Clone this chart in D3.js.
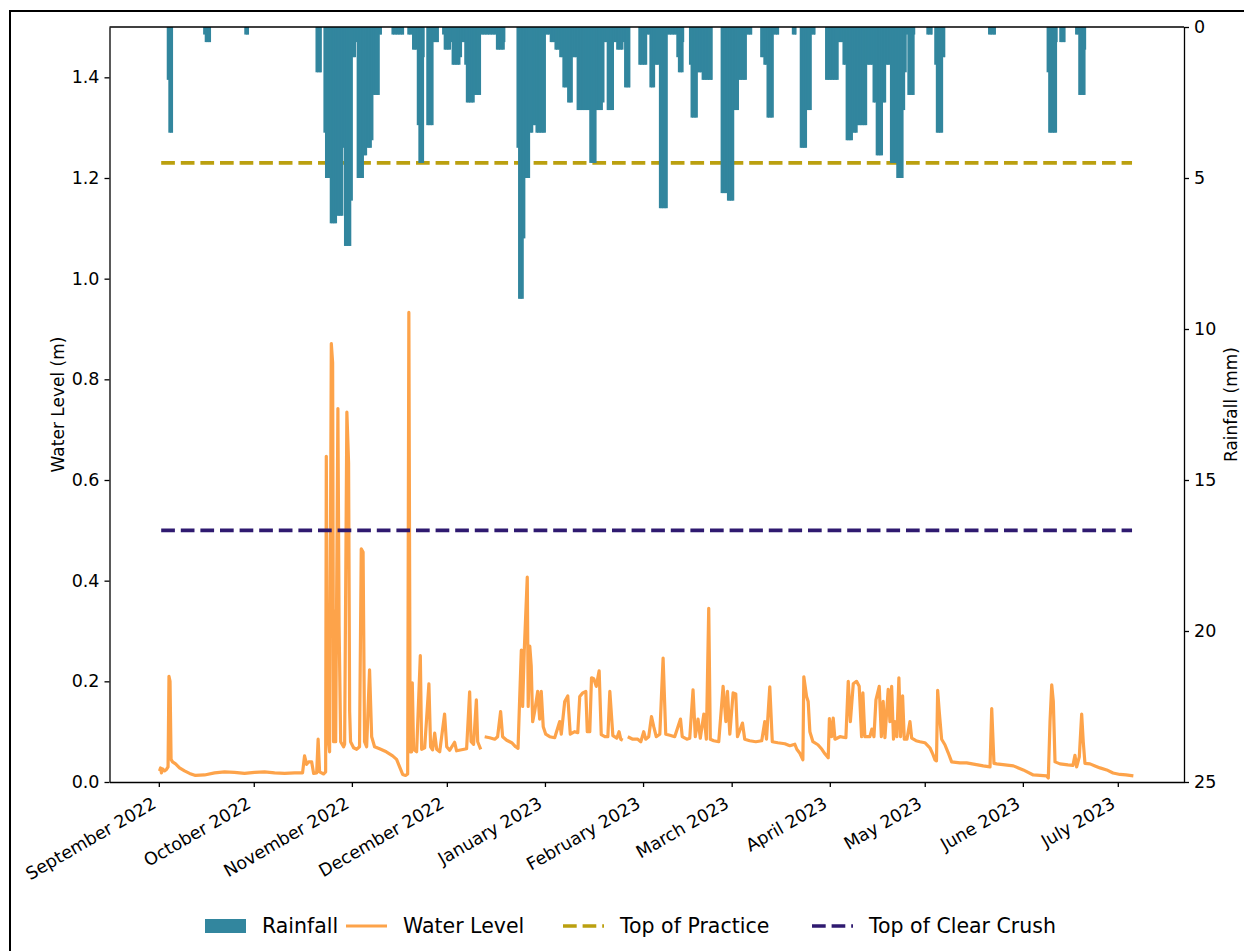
<!DOCTYPE html>
<html>
<head>
<meta charset="UTF-8">
<title>Water Level and Rainfall</title>
<script src="https://d3js.org/d3.v7.min.js"></script>
<style>
  body { margin: 0; background: #fff; }
  text { font-family: "DejaVu Sans", sans-serif; fill: #000; }
</style>
</head>
<body>
<script>
// ---- data ----
var xLimits = ["2022-08-16 10:00", "2023-07-21 22:00"];
var lineSpan = ["2022-09-01 18:00", "2023-07-05 12:00"];
var monthTicks = ["2022-09-01", "2022-10-01", "2022-11-01", "2022-12-01", "2023-01-01", "2023-02-01",
                  "2023-03-01", "2023-04-01", "2023-05-01", "2023-06-01", "2023-07-01"];
var levelTicks = [0, 0.2, 0.4, 0.6, 0.8, 1.0, 1.2, 1.4];
var rainTicks = [0, 5, 10, 15, 20, 25];
var levelMax = 1.5;
var rainMax = 25;
var thresholdNames = ["Top of Practice", "Top of Clear Crush"];
var thresholdValues = [1.23, 0.5];

// water level (m); null marks a gap in the record
var waterLevel = [
  ["2022-09-01 05:00",0.022],["2022-09-01 13:00",0.028],["2022-09-01 20:00",0.018],["2022-09-02 04:00",0.026],
  ["2022-09-02 19:00",0.022],["2022-09-03 10:00",0.025],["2022-09-03 22:00",0.03],["2022-09-04 05:00",0.21],
  ["2022-09-04 13:00",0.2],["2022-09-04 21:00",0.045],["2022-09-05 08:00",0.04],["2022-09-06 07:00",0.036],
  ["2022-09-07 13:00",0.028],["2022-09-09 03:00",0.022],["2022-09-10 17:00",0.017],["2022-09-12 14:00",0.013],
  ["2022-09-15 11:00",0.014],["2022-09-18 15:00",0.018],["2022-09-21 18:00",0.02],["2022-09-24 22:00",0.019],
  ["2022-09-28 02:00",0.017],["2022-10-01 06:00",0.019],["2022-10-04 10:00",0.02],["2022-10-07 14:00",0.018],
  ["2022-10-10 18:00",0.017],["2022-10-13 22:00",0.018],["2022-10-16 10:00",0.018],["2022-10-17 01:00",0.052],
  ["2022-10-17 17:00",0.035],["2022-10-18 08:00",0.04],["2022-10-19 07:00",0.04],["2022-10-19 22:00",0.017],
  ["2022-10-20 21:00",0.018],["2022-10-21 08:00",0.085],["2022-10-21 19:00",0.02],["2022-10-23 02:00",0.016],
  ["2022-10-23 17:00",0.02],["2022-10-23 22:00",0.647],["2022-10-24 08:00",0.1],["2022-10-24 23:00",0.06],
  ["2022-10-25 12:00",0.871],["2022-10-25 22:00",0.833],["2022-10-26 05:00",0.08],["2022-10-26 13:00",0.34],
  ["2022-10-26 21:00",0.08],["2022-10-27 14:00",0.742],["2022-10-27 23:00",0.31],["2022-10-28 11:00",0.08],
  ["2022-10-29 09:00",0.07],["2022-10-29 17:00",0.075],["2022-10-30 10:00",0.735],["2022-10-30 23:00",0.634],
  ["2022-10-31 07:00",0.14],["2022-10-31 14:00",0.08],["2022-11-01 13:00",0.068],["2022-11-02 12:00",0.065],
  ["2022-11-03 10:00",0.07],["2022-11-03 23:00",0.463],["2022-11-04 13:00",0.457],["2022-11-05 00:00",0.08],
  ["2022-11-05 16:00",0.07],["2022-11-06 14:00",0.223],["2022-11-07 06:00",0.09],["2022-11-08 04:00",0.07],
  ["2022-11-09 18:00",0.066],["2022-11-11 21:00",0.06],["2022-11-13 21:00",0.052],["2022-11-15 03:00",0.045],
  ["2022-11-16 02:00",0.03],["2022-11-17 01:00",0.015],["2022-11-17 23:00",0.013],["2022-11-18 15:00",0.016],
  ["2022-11-19 00:00",0.933],["2022-11-19 10:00",0.06],["2022-11-19 21:00",0.06],["2022-11-20 02:00",0.197],
  ["2022-11-20 12:00",0.065],["2022-11-21 11:00",0.06],["2022-11-22 15:00",0.251],["2022-11-23 01:00",0.065],
  ["2022-11-24 00:00",0.068],["2022-11-25 08:00",0.195],["2022-11-25 21:00",0.07],["2022-11-26 12:00",0.064],
  ["2022-11-27 04:00",0.097],["2022-11-27 19:00",0.065],["2022-11-28 18:00",0.06],["2022-11-30 07:00",0.135],
  ["2022-11-30 23:00",0.07],["2022-12-01 21:00",0.063],["2022-12-03 11:00",0.079],["2022-12-04 02:00",0.062],
  ["2022-12-05 16:00",0.064],["2022-12-07 06:00",0.066],["2022-12-08 05:00",0.179],["2022-12-08 16:00",0.08],
  ["2022-12-09 11:00",0.075],["2022-12-10 08:00",0.163],["2022-12-10 18:00",0.08],["2022-12-11 17:00",0.065],
  ["2022-12-12 06:00",null],
  ["2022-12-12 23:00",0.09],["2022-12-14 13:00",0.088],["2022-12-16 03:00",0.085],["2022-12-17 01:00",0.09],
  ["2022-12-18 00:00",0.14],["2022-12-18 15:00",0.09],["2022-12-19 22:00",0.083],["2022-12-21 12:00",0.078],
  ["2022-12-22 18:00",0.07],["2022-12-23 12:00",0.067],["2022-12-24 00:00",0.163],["2022-12-24 13:00",0.262],
  ["2022-12-24 23:00",0.15],["2022-12-25 11:00",0.26],["2022-12-26 10:00",0.407],["2022-12-26 17:00",0.15],
  ["2022-12-27 05:00",0.27],["2022-12-27 16:00",0.23],["2022-12-28 03:00",0.12],["2022-12-28 18:00",0.14],
  ["2022-12-29 17:00",0.18],["2022-12-30 08:00",0.125],["2022-12-30 20:00",0.18],["2022-12-31 11:00",0.11],
  ["2023-01-01 06:00",0.095],["2023-01-02 12:00",0.09],["2023-01-04 02:00",0.088],["2023-01-05 16:00",0.12],
  ["2023-01-06 04:00",0.095],["2023-01-07 06:00",0.16],["2023-01-08 05:00",0.171],["2023-01-09 00:00",0.095],
  ["2023-01-10 10:00",0.1],["2023-01-11 09:00",0.098],["2023-01-12 00:00",0.17],["2023-01-12 23:00",0.177],
  ["2023-01-13 22:00",0.18],["2023-01-14 09:00",0.1],["2023-01-15 04:00",0.1],["2023-01-15 17:00",0.207],
  ["2023-01-16 10:00",0.205],["2023-01-17 05:00",0.19],["2023-01-18 03:00",0.221],["2023-01-18 19:00",0.094],
  ["2023-01-19 22:00",0.09],["2023-01-20 21:00",0.09],["2023-01-21 12:00",0.18],["2023-01-22 11:00",0.092],
  ["2023-01-23 17:00",0.087],["2023-01-24 10:00",0.1],["2023-01-24 23:00",0.085],["2023-01-25 14:00",0.083],
  ["2023-01-26 09:00",null],
  ["2023-01-27 04:00",0.09],["2023-01-28 18:00",0.085],["2023-01-30 08:00",0.085],["2023-01-31 07:00",0.08],
  ["2023-02-01 05:00",0.1],["2023-02-01 20:00",0.085],["2023-02-02 19:00",0.09],["2023-02-03 16:00",0.13],
  ["2023-02-04 09:00",0.11],["2023-02-05 04:00",0.09],["2023-02-06 07:00",0.095],["2023-02-07 08:00",0.246],
  ["2023-02-08 04:00",0.095],["2023-02-09 11:00",0.093],["2023-02-11 00:00",0.09],["2023-02-12 20:00",0.125],
  ["2023-02-13 09:00",0.09],["2023-02-14 20:00",0.085],["2023-02-15 18:00",0.087],["2023-02-16 19:00",0.183],
  ["2023-02-17 12:00",0.09],["2023-02-18 09:00",0.125],["2023-02-19 02:00",0.087],["2023-02-20 05:00",0.135],
  ["2023-02-21 00:00",0.085],["2023-02-21 18:00",0.345],["2023-02-22 06:00",0.085],["2023-02-23 08:00",0.082],
  ["2023-02-24 22:00",0.08],["2023-02-26 07:00",0.19],["2023-02-27 04:00",0.12],["2023-02-27 16:00",0.18],
  ["2023-02-28 10:00",0.095],["2023-03-01 11:00",0.177],["2023-03-02 07:00",0.175],["2023-03-02 20:00",0.09],
  ["2023-03-04 10:00",0.117],["2023-03-05 03:00",0.085],["2023-03-06 17:00",0.082],["2023-03-08 15:00",0.08],
  ["2023-03-10 12:00",0.082],["2023-03-11 11:00",0.12],["2023-03-12 00:00",0.085],["2023-03-13 01:00",0.189],
  ["2023-03-13 20:00",0.08],["2023-03-15 14:00",0.078],["2023-03-17 19:00",0.076],["2023-03-19 09:00",0.072],
  ["2023-03-20 23:00",0.075],["2023-03-21 14:00",0.065],["2023-03-22 13:00",0.057],["2023-03-23 12:00",0.044],
  ["2023-03-23 19:00",0.209],["2023-03-24 16:00",0.17],["2023-03-25 04:00",0.16],["2023-03-25 17:00",0.1],
  ["2023-03-26 16:00",0.08],["2023-03-28 06:00",0.074],["2023-03-29 12:00",0.065],["2023-03-30 11:00",0.056],
  ["2023-03-31 12:00",0.048],["2023-03-31 21:00",0.126],["2023-04-01 14:00",0.09],["2023-04-02 02:00",0.127],
  ["2023-04-02 15:00",0.085],["2023-04-04 05:00",0.09],["2023-04-06 02:00",0.088],["2023-04-06 20:00",0.2],
  ["2023-04-07 12:00",0.12],["2023-04-08 10:00",0.195],["2023-04-09 11:00",0.2],["2023-04-10 07:00",0.19],
  ["2023-04-11 01:00",0.09],["2023-04-11 11:00",0.177],["2023-04-12 02:00",0.09],["2023-04-13 16:00",0.09],
  ["2023-04-14 07:00",0.105],["2023-04-14 23:00",0.09],["2023-04-15 14:00",0.163],["2023-04-16 15:00",0.19],
  ["2023-04-17 07:00",0.09],["2023-04-17 21:00",0.16],["2023-04-18 10:00",0.088],["2023-04-19 11:00",0.184],
  ["2023-04-20 00:00",0.12],["2023-04-20 13:00",0.19],["2023-04-21 03:00",0.085],["2023-04-21 14:00",0.12],
  ["2023-04-22 05:00",0.09],["2023-04-22 20:00",0.207],["2023-04-23 09:00",0.09],["2023-04-24 00:00",0.171],
  ["2023-04-24 13:00",0.085],["2023-04-25 09:00",0.085],["2023-04-26 08:00",0.12],["2023-04-26 21:00",0.087],
  ["2023-04-28 06:00",0.082],["2023-04-29 12:00",0.08],["2023-05-01 01:00",0.078],["2023-05-02 15:00",0.068],
  ["2023-05-03 14:00",0.055],["2023-05-04 06:00",0.044],["2023-05-04 17:00",0.042],["2023-05-05 02:00",0.182],
  ["2023-05-05 14:00",0.14],["2023-05-06 08:00",0.085],["2023-05-07 09:00",0.074],["2023-05-08 10:00",0.058],
  ["2023-05-09 12:00",0.04],["2023-05-12 03:00",0.038],["2023-05-14 06:00",0.038],["2023-05-16 21:00",0.035],
  ["2023-05-19 12:00",0.032],["2023-05-21 15:00",0.03],["2023-05-22 04:00",0.146],["2023-05-22 21:00",0.037],
  ["2023-05-23 18:00",0.036],["2023-05-26 09:00",0.034],["2023-05-29 00:00",0.032],["2023-06-01 03:00",0.024],
  ["2023-06-04 07:00",0.014],["2023-06-06 10:00",0.013],["2023-06-08 12:00",0.012],["2023-06-09 01:00",0.008],
  ["2023-06-09 14:00",0.12],["2023-06-10 03:00",0.193],["2023-06-10 15:00",0.16],["2023-06-11 04:00",0.04],
  ["2023-06-12 18:00",0.036],["2023-06-15 06:00",0.034],["2023-06-16 20:00",0.033],["2023-06-17 11:00",0.053],
  ["2023-06-18 00:00",0.03],["2023-06-18 20:00",0.05],["2023-06-19 14:00",0.135],["2023-06-20 02:00",0.08],
  ["2023-06-20 15:00",0.037],["2023-06-22 05:00",0.036],["2023-06-23 19:00",0.032],["2023-06-25 09:00",0.028],
  ["2023-06-27 12:00",0.024],["2023-06-29 12:00",0.018],["2023-07-01 17:00",0.015],["2023-07-03 14:00",0.014],
  ["2023-07-05 22:00",0.012]
];

// rainfall (mm) per 12-hour period: [start of first period, consecutive values]
var rainfall = [
  ["2022-09-03 12:00",[1.75,3.5,3.5,3.5]],
  ["2022-09-15 00:00",[0.25,0.5,0.5,0.5,0.5]],
  ["2022-09-28 00:00",[0.25,0.25,0.25]],
  ["2022-10-20 12:00",[1.5,1.5,1.5,1.5]],
  ["2022-10-23 00:00",[3.5,5,5,5,6.5,6.5,6.5,6.5,6.25,6.25,6.25,6.25,4,7.25,7.25,7.25,7.25,5.75,1,1,0.5,
                       5,5,5,5,4.25,4.25,4,4,4,3.75,2.25,2.25,2.25,2.25,0.25,0.25]],
  ["2022-11-13 12:00",[0.25,0.25,0.25,0.25,0.25,0.25,0.25,0.25]],
  ["2022-11-18 12:00",[0.25,0.25,0.25,0.75,0.75,0.75,3.25,4.5,4.5,4.5,1]],
  ["2022-11-24 12:00",[3.25,3.25,3.25,3.25,0.5,0.5,0.5,0.5]],
  ["2022-11-29 12:00",[0.25,0.75,0.75,0.75,0.75,0.5,1.25,1.25,1.25,1.25,1.25,1,0.5,0.5,1.25,
                       2.5,2.5,2.5,2.5,2.5,2.25,2.25,2.25,2.25,0.25,0.25,0.25,0.25,0.25,0.25,0.25,0.25,0.25,0.25,
                       0.75,0.75,0.75,0.75,0.75,0.5]],
  ["2022-12-23 00:00",[4,9,9,9,7,5,5,5,3.5,3.5,3.25,3.25,3.5,3.5,3.5,3.5,3.5,3.5,0.25,0.25,0.25,0.5,0.5,0.5,
                       0.75,0.75,0.75,1,1,2,2,2,2.5,2.5,2.5,1,1,1,2.75,2.75,2.75,2.75,2.75,2.75,2.75,2.75,
                       4.5,4.5,4.5,4.5,2.75,2.75,2.75,2.75,2.5,0.5,0.5,2.75,2.75,2.75,2.75,0.5,0.5,
                       0.75,0.75,0.75,0.75,0.5,2,2,2,2]],
  ["2023-01-30 12:00",[1.25,1.25,1.25,1.25,1.25,0.25,0.25,2,2,2,1.25,1.25,1.25,6,6,6,6,6,
                       0.25,0.25,0.25,0.25,0.25,0.25,1,1.5,1.5,1.5,0.5]],
  ["2023-02-15 12:00",[1.25,3,3,3,3,1.5,1.5,1.5,1.75,1.75,1.75,1.75,1.75,1.75,1.75]],
  ["2023-02-25 12:00",[5.5,5.5,5.5,5.5,5.75,5.75,5.75,5.75,2.75,2.75,2.75,1.75,1.75,1.75,1.75,1.75,
                       0.25,0.25,0.25,0.25]],
  ["2023-03-10 00:00",[1,1,1.25,1.25,3,3,3,3,0.25,0.25,0.25,0.25]],
  ["2023-03-20 00:00",[0.25,0.25,0.25]],
  ["2023-03-22 12:00",[4,4,4,4,2.75,2.75,2.75,0.25,0.25,0.25]],
  ["2023-03-30 12:00",[1.75,1.75,1.75,1.75,1.75,1.75,1.75,1.75,0.5,0.5,0.5,1.25,1.25,3.75,3.75,3.75,3.75,
                       3.5,3.5,3.5,3.25,3.25,3.25,3.25,3.25,3.25,1.25,1.25,1.25,1.25,2.5,2.5,
                       4.25,4.25,4.25,4.25,2.5,2.5,1.25,1.25,1.25,4.5,4.5,4.5,4.5,5,5,5,5,
                       2.75,1.5,0.25,2.25,2.25,2.25,2.25,0.25]],
  ["2023-05-01 12:00",[0.25,0.25,0.25,0.25]],
  ["2023-05-04 00:00",[1.25,3.5,3.5,3.5,3.5,1,1]],
  ["2023-05-21 00:00",[0.25,0.25,0.25,0.25,0.25]],
  ["2023-06-08 12:00",[1.5,3.5,3.5,3.5,3.5,3.5,0.5]],
  ["2023-06-12 12:00",[0.5,0.5,0.5,0.5]],
  ["2023-06-17 12:00",[0.25,0.25,2.25,2.25,2.25,2.25,0.75]]
];

// ---- layout ----
var W = 1244, H = 951;
var plot = {left: 109.5, top: 27, right: 1184, bottom: 782};
var rainColor = "#32869e", waterColor = "#fda34a";
var thresholdColors = ["#bba00f", "#2f1a70"];
var tickFont = 17.5, labelFont = 17, legendFont = 20.5;

var parseTime = d3.timeParse("%Y-%m-%d %H:%M");
var parseDay = d3.timeParse("%Y-%m-%d");

var x = d3.scaleTime()
  .domain(xLimits.map(parseTime))
  .range([plot.left, plot.right]);
var yLevel = d3.scaleLinear().domain([0, levelMax]).range([plot.bottom, plot.top]);
var yRain = d3.scaleLinear().domain([rainMax, 0]).range([plot.bottom, plot.top]);

var svg = d3.select("body").append("svg")
  .attr("width", W)
  .attr("height", H);

svg.append("rect").attr("width", W).attr("height", H).attr("fill", "#fff");

// outer frame of the figure (cut off at right and bottom)
svg.append("rect")
  .attr("x", 10).attr("y", 11)
  .attr("width", 1400).attr("height", 1100)
  .attr("fill", "none").attr("stroke", "#000").attr("stroke-width", 2);

svg.append("clipPath").attr("id", "plotClip")
  .append("rect")
  .attr("x", plot.left).attr("y", plot.top)
  .attr("width", plot.right - plot.left).attr("height", plot.bottom - plot.top);

var area = svg.append("g").attr("clip-path", "url(#plotClip)");

// water level
var levelPoints = waterLevel.map(function (d) { return {t: parseTime(d[0]), v: d[1]}; });
var levelLine = d3.line()
  .defined(function (d) { return d.v !== null; })
  .x(function (d) { return x(d.t); })
  .y(function (d) { return yLevel(d.v); });

area.append("path")
  .datum(levelPoints)
  .attr("d", levelLine)
  .attr("fill", "none")
  .attr("stroke", waterColor)
  .attr("stroke-width", 3.2)
  .attr("stroke-linejoin", "round");

// threshold lines
var span = lineSpan.map(parseTime);
thresholdValues.forEach(function (v, i) {
  area.append("line")
    .attr("x1", x(span[0])).attr("x2", x(span[1]))
    .attr("y1", yLevel(v)).attr("y2", yLevel(v))
    .attr("stroke", thresholdColors[i])
    .attr("stroke-width", 3.7)
    .attr("stroke-dasharray", "13.7,5.9");
});

// rainfall bars hanging from the top
var rainSlots = [];
rainfall.forEach(function (ev) {
  var t0 = parseTime(ev[0]);
  ev[1].forEach(function (mm, i) {
    rainSlots.push({t: d3.timeHour.offset(t0, 12 * i), mm: mm, last: i === ev[1].length - 1});
  });
});

area.selectAll("rect.rain")
  .data(rainSlots)
  .enter()
  .append("rect")
  .attr("class", "rain")
  .attr("x", function (d) { return x(d.t); })
  .attr("width", function (d) {
    // small overlap with the next period hides anti-aliasing seams
    return x(d3.timeHour.offset(d.t, 12)) - x(d.t) + (d.last ? 0 : 1);
  })
  .attr("y", yRain(0))
  .attr("height", function (d) { return yRain(d.mm) - yRain(0); })
  .attr("fill", rainColor);

// ---- axes ----
function styleAxis(g) {
  g.selectAll("path.domain").attr("stroke", "#000").attr("stroke-width", 1.3);
  g.selectAll(".tick line").attr("stroke", "#000").attr("stroke-width", 1.3);
  g.selectAll(".tick text").attr("font-size", tickFont).attr("font-family", "DejaVu Sans");
}

var gx = svg.append("g")
  .attr("transform", "translate(0," + plot.bottom + ")")
  .call(d3.axisBottom(x)
    .tickValues(monthTicks.map(parseDay))
    .tickFormat(d3.timeFormat("%B %Y"))
    .tickSize(5).tickSizeOuter(0));
styleAxis(gx);
gx.selectAll(".tick text")
  .attr("x", 0).attr("y", 0).attr("dy", 0)
  .attr("text-anchor", "end")
  .attr("transform", "translate(-2,25) rotate(-30)");

var gl = svg.append("g")
  .attr("transform", "translate(" + plot.left + ",0)")
  .call(d3.axisLeft(yLevel)
    .tickValues(levelTicks)
    .tickFormat(d3.format(".1f"))
    .tickSize(5).tickPadding(5).tickSizeOuter(0));
styleAxis(gl);

var gr = svg.append("g")
  .attr("transform", "translate(" + plot.right + ",0)")
  .call(d3.axisRight(yRain)
    .tickValues(rainTicks)
    .tickSize(5).tickPadding(5).tickSizeOuter(0));
styleAxis(gr);

// top spine
svg.append("line")
  .attr("x1", plot.left).attr("x2", plot.right)
  .attr("y1", plot.top).attr("y2", plot.top)
  .attr("stroke", "#000").attr("stroke-width", 1.3);

// axis titles
var midY = (plot.top + plot.bottom) / 2;
svg.append("text")
  .attr("transform", "translate(64," + midY + ") rotate(-90)")
  .attr("text-anchor", "middle")
  .attr("font-size", labelFont)
  .text("Water Level (m)");

svg.append("text")
  .attr("transform", "translate(1237," + midY + ") rotate(-90)")
  .attr("text-anchor", "middle")
  .attr("font-size", labelFont)
  .text("Rainfall (mm)");

// ---- legend ----
var legY = 926;
var legend = svg.append("g");
var handleX = [205, 346, 563, 812];
var handleW = 41;

legend.append("rect")
  .attr("x", handleX[0]).attr("y", legY - 7)
  .attr("width", handleW).attr("height", 14)
  .attr("fill", rainColor);

legend.append("line")
  .attr("x1", handleX[1]).attr("x2", handleX[1] + handleW)
  .attr("y1", legY).attr("y2", legY)
  .attr("stroke", waterColor).attr("stroke-width", 3.2);

thresholdColors.forEach(function (c, i) {
  legend.append("line")
    .attr("x1", handleX[2 + i]).attr("x2", handleX[2 + i] + handleW)
    .attr("y1", legY).attr("y2", legY)
    .attr("stroke", c).attr("stroke-width", 3.7)
    .attr("stroke-dasharray", "13.7,5.9");
});

var legendNames = ["Rainfall", "Water Level"].concat(thresholdNames);
legendNames.forEach(function (name, i) {
  legend.append("text")
    .attr("x", handleX[i] + handleW + 16)
    .attr("y", legY)
    .attr("dy", "0.36em")
    .attr("font-size", legendFont)
    .text(name);
});
</script>
</body>
</html>
